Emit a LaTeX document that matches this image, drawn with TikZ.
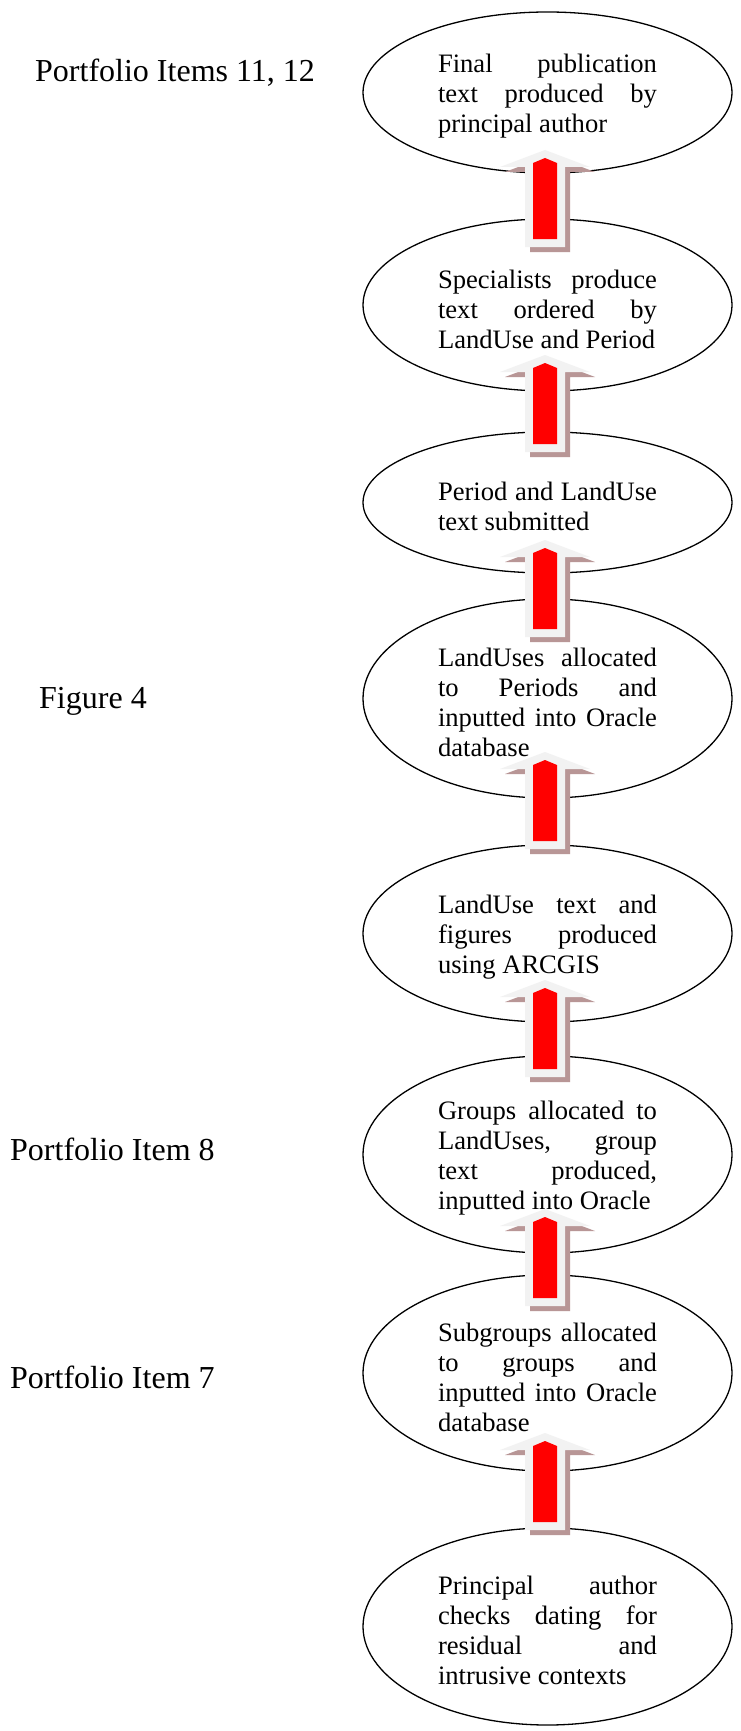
\documentclass[tikz,border=0pt]{standalone}
\usepackage{fontspec}
\setmainfont{Liberation Serif}
\usetikzlibrary{shapes.geometric}

\definecolor{arrowgray}{RGB}{242,242,242}
\definecolor{arrowshade}{RGB}{184,150,150}
\definecolor{arrowred}{RGB}{255,0,0}

% justified and last lines of the bubble texts
\newlength\bubbletw
\setlength\bubbletw{219pt}
\newcommand\jline[1]{\hbox to \bubbletw{#1}}
\newcommand\lline[1]{\hbox{#1}}

% upward block arrow, #1 = coordinate of its tip
\newcommand\blockarrow[1]{%
  \begin{scope}[shift={(#1)}]
    \fill[arrowshade,shift={(5,5)}] (0,0) -- (45,17) -- (20,17) -- (20,97) -- (-20,97) -- (-20,17) -- (-45,17) -- cycle;
    \fill[arrowgray] (0,0) -- (45,17) -- (20,17) -- (20,97) -- (-20,97) -- (-20,17) -- (-45,17) -- cycle;
    \fill[arrowred] (0,8) -- (12,13) -- (12,89) -- (-12,89) -- (-12,13) -- cycle;
  \end{scope}}

\begin{document}
\begin{tikzpicture}[x=1pt,y=-1pt,
  bubble/.style={ellipse, draw=black, line width=1.3pt, minimum width=369pt,
    inner sep=0pt},
  bubbletext/.style={inner sep=0pt, yshift=-4pt,
    font=\fontsize{26.6}{30}\selectfont},
  sidelabel/.style={anchor=base west, inner sep=0pt,
    font=\fontsize{32}{38}\selectfont}]
\useasboundingbox (0,0) rectangle (740,1731);
\fill[white] (0,0) rectangle (740,1731);

% process steps
\node[bubble, minimum height=161pt] (e1) at (547.5,92.5) {};
\node[bubble, minimum height=172pt] (e2) at (547.5,305) {};
\node[bubble, minimum height=141pt] (e3) at (547.5,502.5) {};
\node[bubble, minimum height=199pt] (e4) at (547.5,698.5) {};
\node[bubble, minimum height=177pt] (e5) at (547.5,933.5) {};
\node[bubble, minimum height=197pt] (e6) at (547.5,1154.5) {};
\node[bubble, minimum height=196pt] (e7) at (547.5,1373) {};
\node[bubble, minimum height=197pt] (e8) at (547.5,1626.5) {};

% texts of the steps
\node[bubbletext] (t1) at (e1.center)
  {\vbox{\jline{Final publication}\jline{text produced by}\lline{principal author}}};
\node[bubbletext] (t2) at (e2.center)
  {\vbox{\jline{Specialists produce}\jline{text ordered by}\lline{LandUse and Period}}};
\node[bubbletext] (t3) at (e3.center)
  {\vbox{\jline{Period and LandUse}\lline{text submitted}}};
\node[bubbletext] (t4) at (e4.center)
  {\vbox{\jline{LandUses allocated}\jline{to Periods and}\jline{inputted into Oracle}\lline{database}}};
\node[bubbletext] (t5) at (e5.center)
  {\vbox{\jline{LandUse text and}\jline{figures produced}\lline{using ARCGIS}}};
\node[bubbletext] (t6) at (e6.center)
  {\vbox{\jline{Groups allocated to}\jline{LandUses, group}\jline{text produced,}\lline{inputted into Oracle}}};
\node[bubbletext] (t7) at (e7.center)
  {\vbox{\jline{Subgroups allocated}\jline{to groups and}\jline{inputted into Oracle}\lline{database}}};
\node[bubbletext] (t8) at (e8.center)
  {\vbox{\jline{Principal author}\jline{checks dating for}\jline{residual and}\lline{intrusive contexts}}};

% arrow tips between the steps
\coordinate (a1) at (545,150);
\coordinate (a2) at (545,355);
\coordinate (a3) at (545,540);
\coordinate (a4) at (545,752);
\coordinate (a5) at (545,980);
\coordinate (a6) at (545,1209);
\coordinate (a7) at (545,1433);
\foreach \a in {a1,a2,a3,a4,a5,a6,a7} {\blockarrow{\a}}

% side references
\node[sidelabel] (l1) at (35,82) {Portfolio Items 11, 12};
\node[sidelabel] (l2) at (39,708) {Figure 4};
\node[sidelabel] (l3) at (10,1160) {Portfolio Item 8};
\node[sidelabel] (l4) at (10,1388) {Portfolio Item 7};
\end{tikzpicture}
\end{document}
